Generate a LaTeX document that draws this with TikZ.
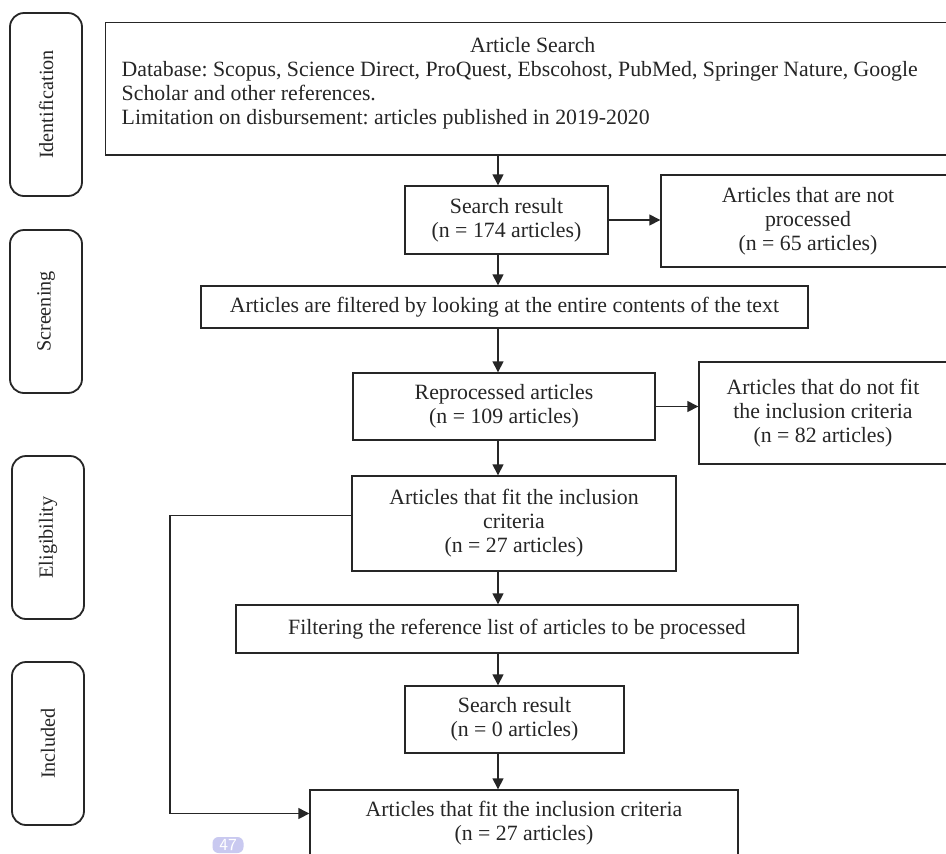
\documentclass[tikz,border=0pt]{standalone}
\usepackage{fontspec}
\setmainfont{Liberation Serif}
\frenchspacing
\usetikzlibrary{arrows.meta}
\definecolor{ink}{HTML}{262626}
\definecolor{badge}{HTML}{C9C9F0}

\begin{document}
\begin{tikzpicture}[x=0.5pt,y=-0.5pt,>={Triangle[length=5.5pt,width=5.5pt]},
  font=\fontsize{10.9}{12}\selectfont,text=ink,
  flowbox/.style={draw=ink,line width=0.7pt,align=center,inner sep=0pt},
  phase/.style={draw=ink,line width=0.9pt,rounded corners=7pt,rotate=90,minimum height=36pt,
    font=\fontsize{10.1}{12}\selectfont},
  link/.style={draw=ink,line width=0.7pt,->}]
  \useasboundingbox[fill=white] (0,0) rectangle (946,853);

  % phase labels down the left side
  \node[phase,minimum width=91.5pt] (ident) at (46,104.5) {Identification};
  \node[phase,minimum width=81.5pt] (screen) at (46,311.5) {Screening};
  \node[phase,minimum width=81.5pt] (elig) at (48,537.5) {Eligibility};
  \node[phase,minimum width=81.5pt] (incl) at (48,743.5) {Included};

  % main column (right edges run past the page)
  \node[flowbox,anchor=north west,align=flush left,text width=411pt,inner xsep=8pt,
        inner ysep=7.5pt,minimum height=66pt] (search) at (105,22)
    {\makebox[\linewidth]{Article Search}\\
     Database: Scopus, Science Direct, ProQuest, Ebscohost, PubMed, Springer Nature, Google\\
     Scholar and other references.\\
     Limitation on disbursement: articles published in 2019-2020\rule[-7.5pt]{0pt}{7.5pt}};
  \node[flowbox,minimum width=101.5pt,minimum height=34pt] (res174) at (506.5,220)
    {Search result\\(n = 174 articles)};
  \node[flowbox,minimum width=147pt,minimum height=46pt] (notproc) at (808,221)
    {Articles that are not\\processed\\(n = 65 articles)};
  \node[flowbox,minimum width=303.5pt,minimum height=21pt] (fulltext) at (504.5,307)
    {Articles are filtered by looking at the entire contents of the text};
  \node[flowbox,minimum width=151pt,minimum height=33.5pt] (reproc) at (504,406.5)
    {Reprocessed articles\\(n = 109 articles)};
  \node[flowbox,minimum width=124pt,minimum height=51pt] (nofit) at (823,413)
    {Articles that do not fit\\the inclusion criteria\\(n = 82 articles)};
  \node[flowbox,minimum width=162pt,minimum height=47.5pt] (fit) at (514,523.5)
    {Articles that fit the inclusion\\criteria\\(n = 27 articles)};
  \node[flowbox,minimum width=281pt,minimum height=24pt] (reflist) at (517,629)
    {Filtering the reference list of articles to be processed};
  \node[flowbox,minimum width=109.5pt,minimum height=33.5pt] (res0) at (514.5,719.5)
    {Search result\\(n = 0 articles)};
  \node[flowbox,minimum width=214pt,minimum height=33.5pt] (final) at (524,823.5)
    {Articles that fit the inclusion criteria\\(n = 27 articles)};

  \node[fill=badge,text=white,rounded corners=3pt,minimum width=15.5pt,minimum height=8pt,
        inner sep=0pt,font=\sffamily\fontsize{8.5}{8.5}\selectfont] (page) at (228,845) {47};

  % arrows down the spine
  \coordinate (spine) at (498,0);
  \draw[link] (search.south -| spine) -- (res174.north -| spine);
  \draw[link] (res174.south -| spine) -- (fulltext.north -| spine);
  \draw[link] (fulltext.south -| spine) -- (reproc.north -| spine);
  \draw[link] (reproc.south -| spine) -- (fit.north -| spine);
  \draw[link] (fit.south -| spine) -- (reflist.north -| spine);
  \draw[link] (reflist.south -| spine) -- (res0.north -| spine);
  \draw[link] (res0.south -| spine) -- (final.north -| spine);

  % side exits and the bypass on the left
  \draw[link] (res174.east) -- (res174.east -| notproc.west);
  \draw[link] (reproc.east) -- (reproc.east -| nofit.west);
  \coordinate (bypass) at (170,0);
  \draw[link] ([yshift=4pt]fit.west) -- ([yshift=4pt]fit.west -| bypass)
    -- ([yshift=5pt]final.west -| bypass) -- ([yshift=5pt]final.west);
\end{tikzpicture}
\end{document}
